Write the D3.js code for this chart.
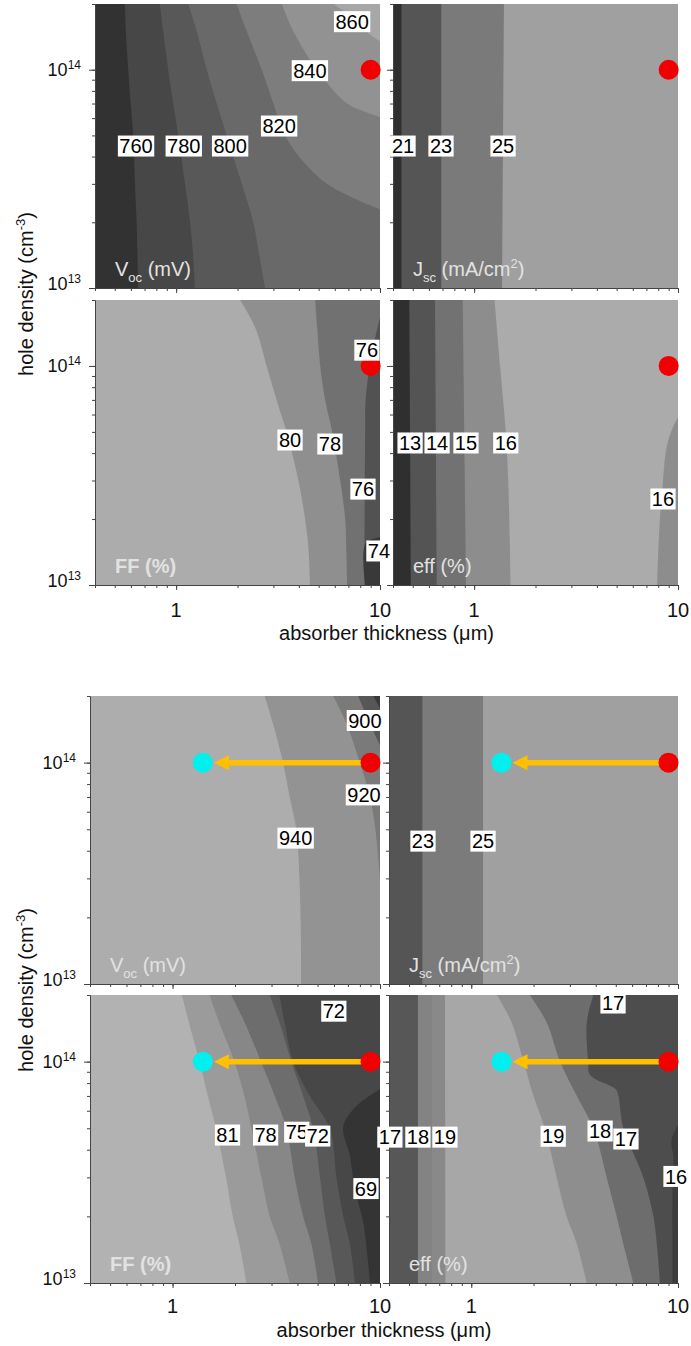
<!DOCTYPE html>
<html>
<head>
<meta charset="utf-8">
<script src="https://cdnjs.cloudflare.com/ajax/libs/d3/7.8.5/d3.min.js"></script>
<style>
  body { margin: 0; background: #fff; }
  svg { display: block; font-family: "Liberation Sans", Arial, sans-serif; }
</style>
</head>
<body>
<svg id="chart" width="691" height="1346"></svg>
<script>
// axes
var thicknessDomain = [0.4, 10];        // absorber thickness (um)
var densityDomain = [1e13, 2e14];       // hole density (cm-3)
var thicknessMajor = [1, 10];
var densityMajor = [1e13, 1e14];
var densityRows = [2e14, 1.5e14, 1e14, 7e13, 5e13, 3e13, 2e13, 1.5e13, 1e13];

// marked devices
var redPoint = [9, 1e14];
var cyanPoint = [1.4, 1e14];

// ---- upper figure ----
// contour edges, left to right: either thickness per density row, or [thickness, density] points
var voc1Edges = [
  [0.561, 0.567, 0.582, 0.598, 0.616, 0.628, 0.640, 0.645, 0.652],
  [0.832, 0.864, 0.914, 0.968, 1.024, 1.105, 1.170, 1.205, 1.237],
  [1.147, 1.262, 1.413, 1.581, 1.770, 2.100, 2.390, 2.530, 2.730],
  [[1.98, 2e14], [2.22, 1.5e14], [2.63, 1e14], [3.0, 7e13], [3.42, 5e13], [4.2, 3.8e13], [5.49, 3e13], [8.0, 2.5e13], [10, 2.3e13]],
  [[3.3, 2e14], [3.76, 1.5e14], [4.9, 1e14], [6.9, 7e13], [8.5, 6.4e13], [10, 6.07e13]],
  [[5.92, 2e14], [6.9, 1.8e14], [8.5, 1.5e14], [10, 1.35e14]]
];
var voc1Labels = [[760, 0.636, 4.47e13], [780, 1.09, 4.47e13], [800, 1.84, 4.47e13],
                  [820, 3.2, 5.52e13], [840, 4.53, 9.9e13], [860, 7.3, 1.66e14]];

var jsc1Edges = [
  [[0.44, 2e14], [0.44, 1e13]],
  [[0.69, 2e14], [0.69, 1e13]],
  [[1.40, 2e14], [1.37, 1e13]]
];
var jsc1Labels = [[21, 0.448, 4.47e13], [23, 0.688, 4.47e13], [25, 1.386, 4.47e13]];

var ff1Edges = [
  [2.06, 2.44, 2.78, 3.11, 3.48, 3.98, 4.29, 4.45, 4.54],
  [4.81, 4.92, 5.09, 5.38, 5.83, 6.38, 6.75, 6.83, 6.90],
  [[10, 1.67e14], [9.4, 1.3e14], [8.9, 1e14], [8.5, 7e13], [8.46, 5e13], [8.4, 2e13], [8.4, 1e13]],
  [[10, 1.65e13], [8.5, 1.55e13], [8.46, 1e13]]
];
var ff1Labels = [[76, 8.63, 1.18e14], [80, 3.62, 4.59e13], [78, 5.68, 4.4e13],
                 [76, 8.25, 2.74e13], [74, 9.88, 1.43e13]];

var eff1Edges = [
  [[0.481, 2e14], [0.489, 1e13]],
  [[0.643, 2e14], [0.655, 1e13]],
  [[0.879, 2e14], [0.912, 1e13]],
  [[1.26, 2e14], [1.34, 1e14], [1.43, 5e13], [1.47, 3e13], [1.51, 1e13]],
  [[10, 5.85e13], [9.4, 5.2e13], [8.8, 4.27e13], [8.37, 2.7e13], [8.1, 1.8e13], [7.9, 1e13]]
];
var eff1Labels = [[13, 0.485, 4.45e13], [14, 0.658, 4.45e13], [15, 0.912, 4.45e13],
                  [16, 1.43, 4.45e13], [16, 8.44, 2.47e13]];

// ---- lower figure ----
var voc2Edges = [
  [2.78, 3.05, 3.41, 3.67, 3.95, 4.09, 4.14, 4.16, 4.17],
  [[5.95, 2e14], [6.9, 1.5e14], [8.0, 1e14], [8.95, 7e13], [9.5, 5e13], [10, 3e13]],
  [[7.85, 2e14], [8.95, 1.5e14], [10, 1.2e14]],
  [[9.3, 2e14], [10, 1.75e14]]
];
var voc2Labels = [[900, 8.46, 1.55e14], [920, 8.37, 7.15e13], [940, 3.92, 4.56e13]];

var jsc2Edges = [
  [[0.58, 2e14], [0.58, 1e13]],
  [[1.14, 2e14], [1.14, 1e13]]
];
var jsc2Labels = [[23, 0.584, 4.42e13], [25, 1.14, 4.42e13]];

var ff2Edges = [
  [1.11, 1.20, 1.35, 1.48, 1.62, 1.81, 1.95, 2.10, 2.27],
  [1.51, 1.68, 1.99, 2.22, 2.40, 2.68, 2.94, 3.28, 3.67],
  [1.92, 2.23, 2.67, 3.11, 3.54, 3.88, 4.26, 4.67, 5.03],
  [2.94, 3.28, 3.74, 4.26, 4.76, 5.14, 5.43, 5.73, 6.17],
  [3.28, 3.47, 3.81, 4.59, 5.73, 6.17, 6.65, 7.16, 7.57],
  [[10, 7.5e13], [7.71, 6.3e13], [6.65, 5.1e13], [7.16, 3.75e13], [7.57, 2.65e13], [8.31, 1.87e13], [8.95, 1e13]]
];
var ff2Labels = [[72, 5.99, 1.69e14], [81, 1.84, 4.66e13], [78, 2.81, 4.66e13],
                 [75, 3.97, 4.8e13], [72, 5.01, 4.61e13], [69, 8.56, 2.67e13]];

var eff2Edges = [
  [[0.552, 2e14], [0.552, 1e13]],
  [[0.646, 2e14], [0.646, 1e13]],
  [[0.746, 2e14], [0.75, 1e13]],
  [1.33, 1.57, 1.79, 2.00, 2.27, 2.59, 2.89, 3.24, 3.62],
  [1.92, 2.32, 2.69, 3.24, 3.90, 4.52, 5.05, 5.44, 6.08],
  [[3.9, 2e14], [3.62, 1.5e14], [3.68, 1e14], [3.75, 8.7e13], [5.0, 7.5e13], [5.15, 7e13],
   [5.44, 5e13], [6.8, 3e13], [7.6, 2e13], [7.9, 1.5e13], [8.18, 1e13]],
  [[10, 5.2e13], [9.3, 4.4e13], [9.5, 3.7e13], [9.4, 2.5e13], [9.4, 1e13]]
];
var eff2Labels = [[17, 4.85, 1.84e14], [17, 0.404, 4.56e13], [18, 0.552, 4.56e13], [19, 0.746, 4.56e13],
                  [19, 2.49, 4.6e13], [18, 4.2, 4.86e13], [17, 5.6, 4.47e13], [16, 9.78, 3.03e13]];

// panel titles: [text, "sub"|"sup"|undefined]
var vocTitle = [["V"], ["oc", "sub"], [" (mV)"]];
var jscTitle = [["J"], ["sc", "sub"], [" (mA/cm"], ["2", "sup"], [")"]];
var ffTitle = [["FF (%)"]];
var effTitle = [["eff (%)"]];

// ---- layout and shading ----
var layout = [
  {x: [[95, 380], [393, 678]], y: [[4, 288], [300, 585]], tickBase: 617, titleBase: 640, yMid: 294},
  {x: [[90, 380], [389, 678]], y: [[696, 984], [995, 1283]], tickBase: 1313, titleBase: 1337, yMid: 990}
];

var panels = [
  {g: 0, col: 0, row: 0, edges: voc1Edges, labels: voc1Labels, title: vocTitle,
   shades: ["#323232", "#474747", "#585858", "#696969", "#7d7d7d", "#929292", "#a7a7a7"]},
  {g: 0, col: 1, row: 0, edges: jsc1Edges, labels: jsc1Labels, title: jscTitle,
   shades: ["#2f2f2f", "#555555", "#7a7a7a", "#a0a0a0"]},
  {g: 0, col: 0, row: 1, edges: ff1Edges, labels: ff1Labels, title: ffTitle, bold: true,
   shades: ["#acacac", "#8f8f8f", "#717171", "#525252", "#393939"]},
  {g: 0, col: 1, row: 1, edges: eff1Edges, labels: eff1Labels, title: effTitle,
   shades: ["#2f2f2f", "#545454", "#727272", "#8d8d8d", "#ababab", "#8d8d8d"]},
  {g: 1, col: 0, row: 0, edges: voc2Edges, labels: voc2Labels, title: vocTitle, arrow: true,
   shades: ["#adadad", "#939393", "#7a7a7a", "#575757", "#3a3a3a"]},
  {g: 1, col: 1, row: 0, edges: jsc2Edges, labels: jsc2Labels, title: jscTitle, arrow: true,
   shades: ["#555555", "#7b7b7b", "#a0a0a0"]},
  {g: 1, col: 0, row: 1, edges: ff2Edges, labels: ff2Labels, title: ffTitle, bold: true, arrow: true,
   shades: ["#b2b2b2", "#9b9b9b", "#878787", "#6d6d6d", "#585858", "#474747", "#343434"]},
  {g: 1, col: 1, row: 1, edges: eff2Edges, labels: eff2Labels, title: effTitle, arrow: true,
   shades: ["#575757", "#838383", "#898989", "#a7a7a7", "#8e8e8e", "#6d6d6d", "#4d4d4d", "#3c3c3c"]}
];

var svg = d3.select("#chart");

function asPoints(edge) {
  if (typeof edge[0] === "number") return edge.map(function(t, j) { return [t, densityRows[j]]; });
  return edge;
}

// text with sub/superscript pieces
function addSegments(text, segs, size) {
  segs.forEach(function(s, k) {
    var ts = text.append("tspan").text(s[0]);
    var prev = segs[k - 1];
    if (s[1] === "sub") ts.attr("font-size", size * 0.65).attr("dy", size * 0.28);
    else if (s[1] === "sup") ts.attr("font-size", size * 0.65).attr("dy", -size * 0.4);
    else if (prev && prev[1] === "sub") ts.attr("dy", -size * 0.28);
    else if (prev && prev[1] === "sup") ts.attr("dy", size * 0.4);
  });
}

panels.forEach(function(p, i) {
  var L = layout[p.g];
  var xr = L.x[p.col], yr = L.y[p.row];
  var x = d3.scaleLog().domain(thicknessDomain).range(xr);
  var y = d3.scaleLog().domain(densityDomain).range([yr[1], yr[0]]);
  var g = svg.append("g");

  g.append("clipPath").attr("id", "clip" + i)
    .append("rect").attr("x", xr[0]).attr("y", yr[0])
    .attr("width", xr[1] - xr[0]).attr("height", yr[1] - yr[0]);

  var fill = g.append("g").attr("clip-path", "url(#clip" + i + ")");
  fill.append("rect").attr("x", xr[0]).attr("y", yr[0])
    .attr("width", xr[1] - xr[0]).attr("height", yr[1] - yr[0])
    .attr("fill", p.shades[0]);

  var edgeLine = d3.line()
    .x(function(d) { return x(d[0]); })
    .y(function(d) { return y(d[1]); })
    .curve(d3.curveCatmullRom.alpha(0.5));

  // each band: everything right of its edge
  p.edges.forEach(function(e, k) {
    var right = x(thicknessDomain[1]) + 4;
    var d = edgeLine(asPoints(e)) +
      "L" + right + "," + (y(densityDomain[0]) + 4) +
      "L" + right + "," + (y(densityDomain[1]) - 4) + "Z";
    fill.append("path").attr("d", d).attr("fill", p.shades[k + 1]);
  });

  // axes
  var yMinor = d3.axisLeft(y).tickValues(y.ticks()).tickSize(3).tickSizeOuter(0).tickFormat("");
  var yMajor = d3.axisLeft(y).tickValues(densityMajor).tickSize(6).tickSizeOuter(0).tickFormat("");
  var xMinor = d3.axisBottom(x).tickValues(x.ticks()).tickSize(3).tickSizeOuter(0).tickFormat("");
  var xMajor = d3.axisBottom(x).tickValues(thicknessMajor).tickSize(5).tickSizeOuter(0).tickFormat("");
  [yMinor, yMajor].forEach(function(a) {
    g.append("g").attr("transform", "translate(" + xr[0] + ",0)").call(a);
  });
  [xMinor, xMajor].forEach(function(a) {
    g.append("g").attr("transform", "translate(0," + yr[1] + ")").call(a);
  });
  g.selectAll(".domain, .tick line").attr("stroke", "#444");

  if (p.col === 0) {
    densityMajor.forEach(function(v) {
      var t = g.append("text")
        .attr("x", xr[0] - 14)
        .attr("y", y(v) + (v === 1e14 ? 6 : 2))
        .attr("text-anchor", "end").attr("font-size", 18).attr("fill", "#111");
      t.append("tspan").text("10");
      t.append("tspan").attr("font-size", 12).attr("dy", -7).text(Math.round(Math.log10(v)));
    });
  }
  if (p.row === 1) {
    thicknessMajor.forEach(function(v) {
      g.append("text").attr("x", x(v)).attr("y", L.tickBase)
        .attr("text-anchor", "middle").attr("font-size", 20).attr("fill", "#111")
        .text(v);
    });
  }

  // panel title
  var tt = g.append("text").attr("x", xr[0] + 20).attr("y", yr[1] - 12)
    .attr("font-size", 20).attr("fill", "#e2e2e2")
    .attr("font-weight", p.bold ? "bold" : "normal");
  addSegments(tt, p.title, 20);

  // markers
  var cy = y(redPoint[1]);
  if (p.arrow) {
    var tip = x(cyanPoint[0]) + 11, base = tip + 15;
    g.append("line").attr("x1", x(redPoint[0])).attr("x2", base - 1)
      .attr("y1", cy).attr("y2", cy)
      .attr("stroke", "#ffc000").attr("stroke-width", 5.5);
    g.append("path")
      .attr("d", "M" + tip + "," + cy + "L" + base + "," + (cy - 7.5) + "L" + base + "," + (cy + 7.5) + "Z")
      .attr("fill", "#ffc000");
    g.append("circle").attr("cx", x(cyanPoint[0])).attr("cy", y(cyanPoint[1])).attr("r", 10)
      .attr("fill", "#00f0f0");
  }
  g.append("circle").attr("cx", x(redPoint[0])).attr("cy", cy).attr("r", 10).attr("fill", "#f00000");

  // contour labels
  p.labels.forEach(function(l) {
    var lg = g.append("g");
    var txt = lg.append("text").attr("x", x(l[1])).attr("y", y(l[2]))
      .attr("dy", "0.36em").attr("text-anchor", "middle")
      .attr("font-size", 20).attr("fill", "#000").text(l[0]);
    var w = txt.node().getComputedTextLength() + 3;
    lg.insert("rect", "text").attr("x", x(l[1]) - w / 2).attr("y", y(l[2]) - 10.5)
      .attr("width", w).attr("height", 21).attr("fill", "#fff");
  });
});

// shared axis titles
layout.forEach(function(L) {
  svg.append("text")
    .attr("x", (L.x[0][0] + L.x[1][1]) / 2).attr("y", L.titleBase)
    .attr("text-anchor", "middle").attr("font-size", 20).attr("fill", "#111")
    .text("absorber thickness (\u03bcm)");
  var yt = svg.append("text")
    .attr("transform", "translate(33," + L.yMid + ") rotate(-90)")
    .attr("text-anchor", "middle").attr("font-size", 20).attr("fill", "#111");
  addSegments(yt, [["hole density (cm"], ["-3", "sup"], [")"]], 20);
});
</script>
</body>
</html>
